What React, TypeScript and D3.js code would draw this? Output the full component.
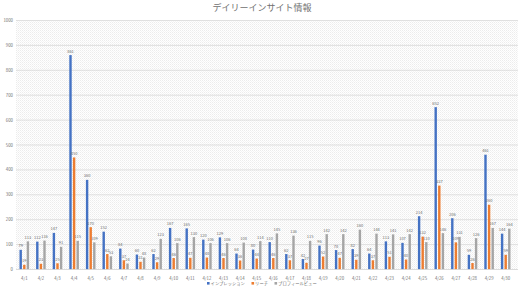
import React from "react";
import * as d3 from "d3";

const categories = ["4/1","4/2","4/3","4/4","4/5","4/6","4/7","4/8","4/9","4/10","4/11","4/12","4/13","4/14","4/15","4/16","4/17","4/18","4/19","4/20","4/21","4/22","4/23","4/24","4/25","4/26","4/27","4/28","4/29","4/30"];
const impressions = [79,112,147,861,360,152,84,60,62,167,165,120,129,64,80,110,62,42,96,78,82,64,113,107,214,652,206,59,461,144];
const reach = [19,23,25,450,170,62,37,31,29,46,47,48,46,36,44,46,37,27,52,47,39,37,51,40,132,337,109,26,260,59];
const profileViews = [113,116,91,115,109,53,24,48,123,106,130,106,106,108,114,145,136,115,142,142,160,144,141,142,110,146,131,126,167,164];
const seriesNames = ["インプレッション","リーチ","プロフィールビュー"];
const colors = ["#4472C4","#ED7D31","#A5A5A5"];
const yTicks = d3.range(0, 1001, 100);
const title = "デイリーインサイト情報";

export default function App() {
  const W = 524, H = 291;
  const left = 16, right = 514, top = 20.5, bottom = 269.5;
  const x = d3.scaleBand<string>().domain(categories).range([left, right]).padding(0);
  const y = d3.scaleLinear().domain([0, 1000]).range([bottom, top]);
  const series = [impressions, reach, profileViews];
  const bw = 2.4, step = 3.6;
  const font = "'Noto Sans CJK JP', 'Noto Sans', sans-serif";
  const legendX = [207, 251.5, 274.5];
  return (
    <svg width={W} height={H} style={{ position: "absolute", left: 0, top: 0, fontFamily: font }}>
      <defs>
        <pattern id="hatch" width="2" height="2" patternUnits="userSpaceOnUse">
          <rect width="2" height="2" fill="#ffffff" />
          <rect width="1" height="1" fill="#ececec" />
          <rect x="1" y="1" width="1" height="1" fill="#f4f4f4" />
        </pattern>
      </defs>
      <rect width={W} height={H} fill="#fff" />
      <text x={262} y={11} textAnchor="middle" fontSize={9} fill="#707070">{title}</text>
      <rect x={left} y={top} width={518 - left} height={bottom - top} fill="url(#hatch)" />
      {yTicks.map((t) => (
        <g key={t}>
          <line x1={left} x2={518} y1={y(t)} y2={y(t)} stroke="#d9d9d9" strokeWidth={0.8} />
          <text x={13} y={y(t) + 1.5} textAnchor="end" fontSize={4.3} fill="#707070">{t}</text>
        </g>
      ))}
      {categories.map((c, i) => {
        const cx = (x(c) as number) + x.bandwidth() / 2;
        return (
          <g key={c}>
            {series.map((s, k) => {
              const bx = cx + (k - 1) * step - bw / 2;
              const v = s[i];
              return (
                <g key={k}>
                  <rect x={bx} y={y(v)} width={bw} height={bottom - y(v)} fill={colors[k]} />
                  <text x={bx + bw / 2} y={y(v) - 2.5} textAnchor="middle" fontSize={4} fill="#707070">{v}</text>
                </g>
              );
            })}
            <text x={cx} y={280} textAnchor="middle" fontSize={4.3} fill="#707070">{c}</text>
          </g>
        );
      })}
      <line x1={left} x2={518} y1={bottom} y2={bottom} stroke="#d9d9d9" strokeWidth={0.8} />
      {seriesNames.map((n, k) => (
        <g key={n}>
          <rect x={legendX[k]} y={282} width={2.6} height={2.6} fill={colors[k]} />
          <text x={legendX[k] + 3.6} y={285} fontSize={4.3} fill="#707070">{n}</text>
        </g>
      ))}
    </svg>
  );
}
